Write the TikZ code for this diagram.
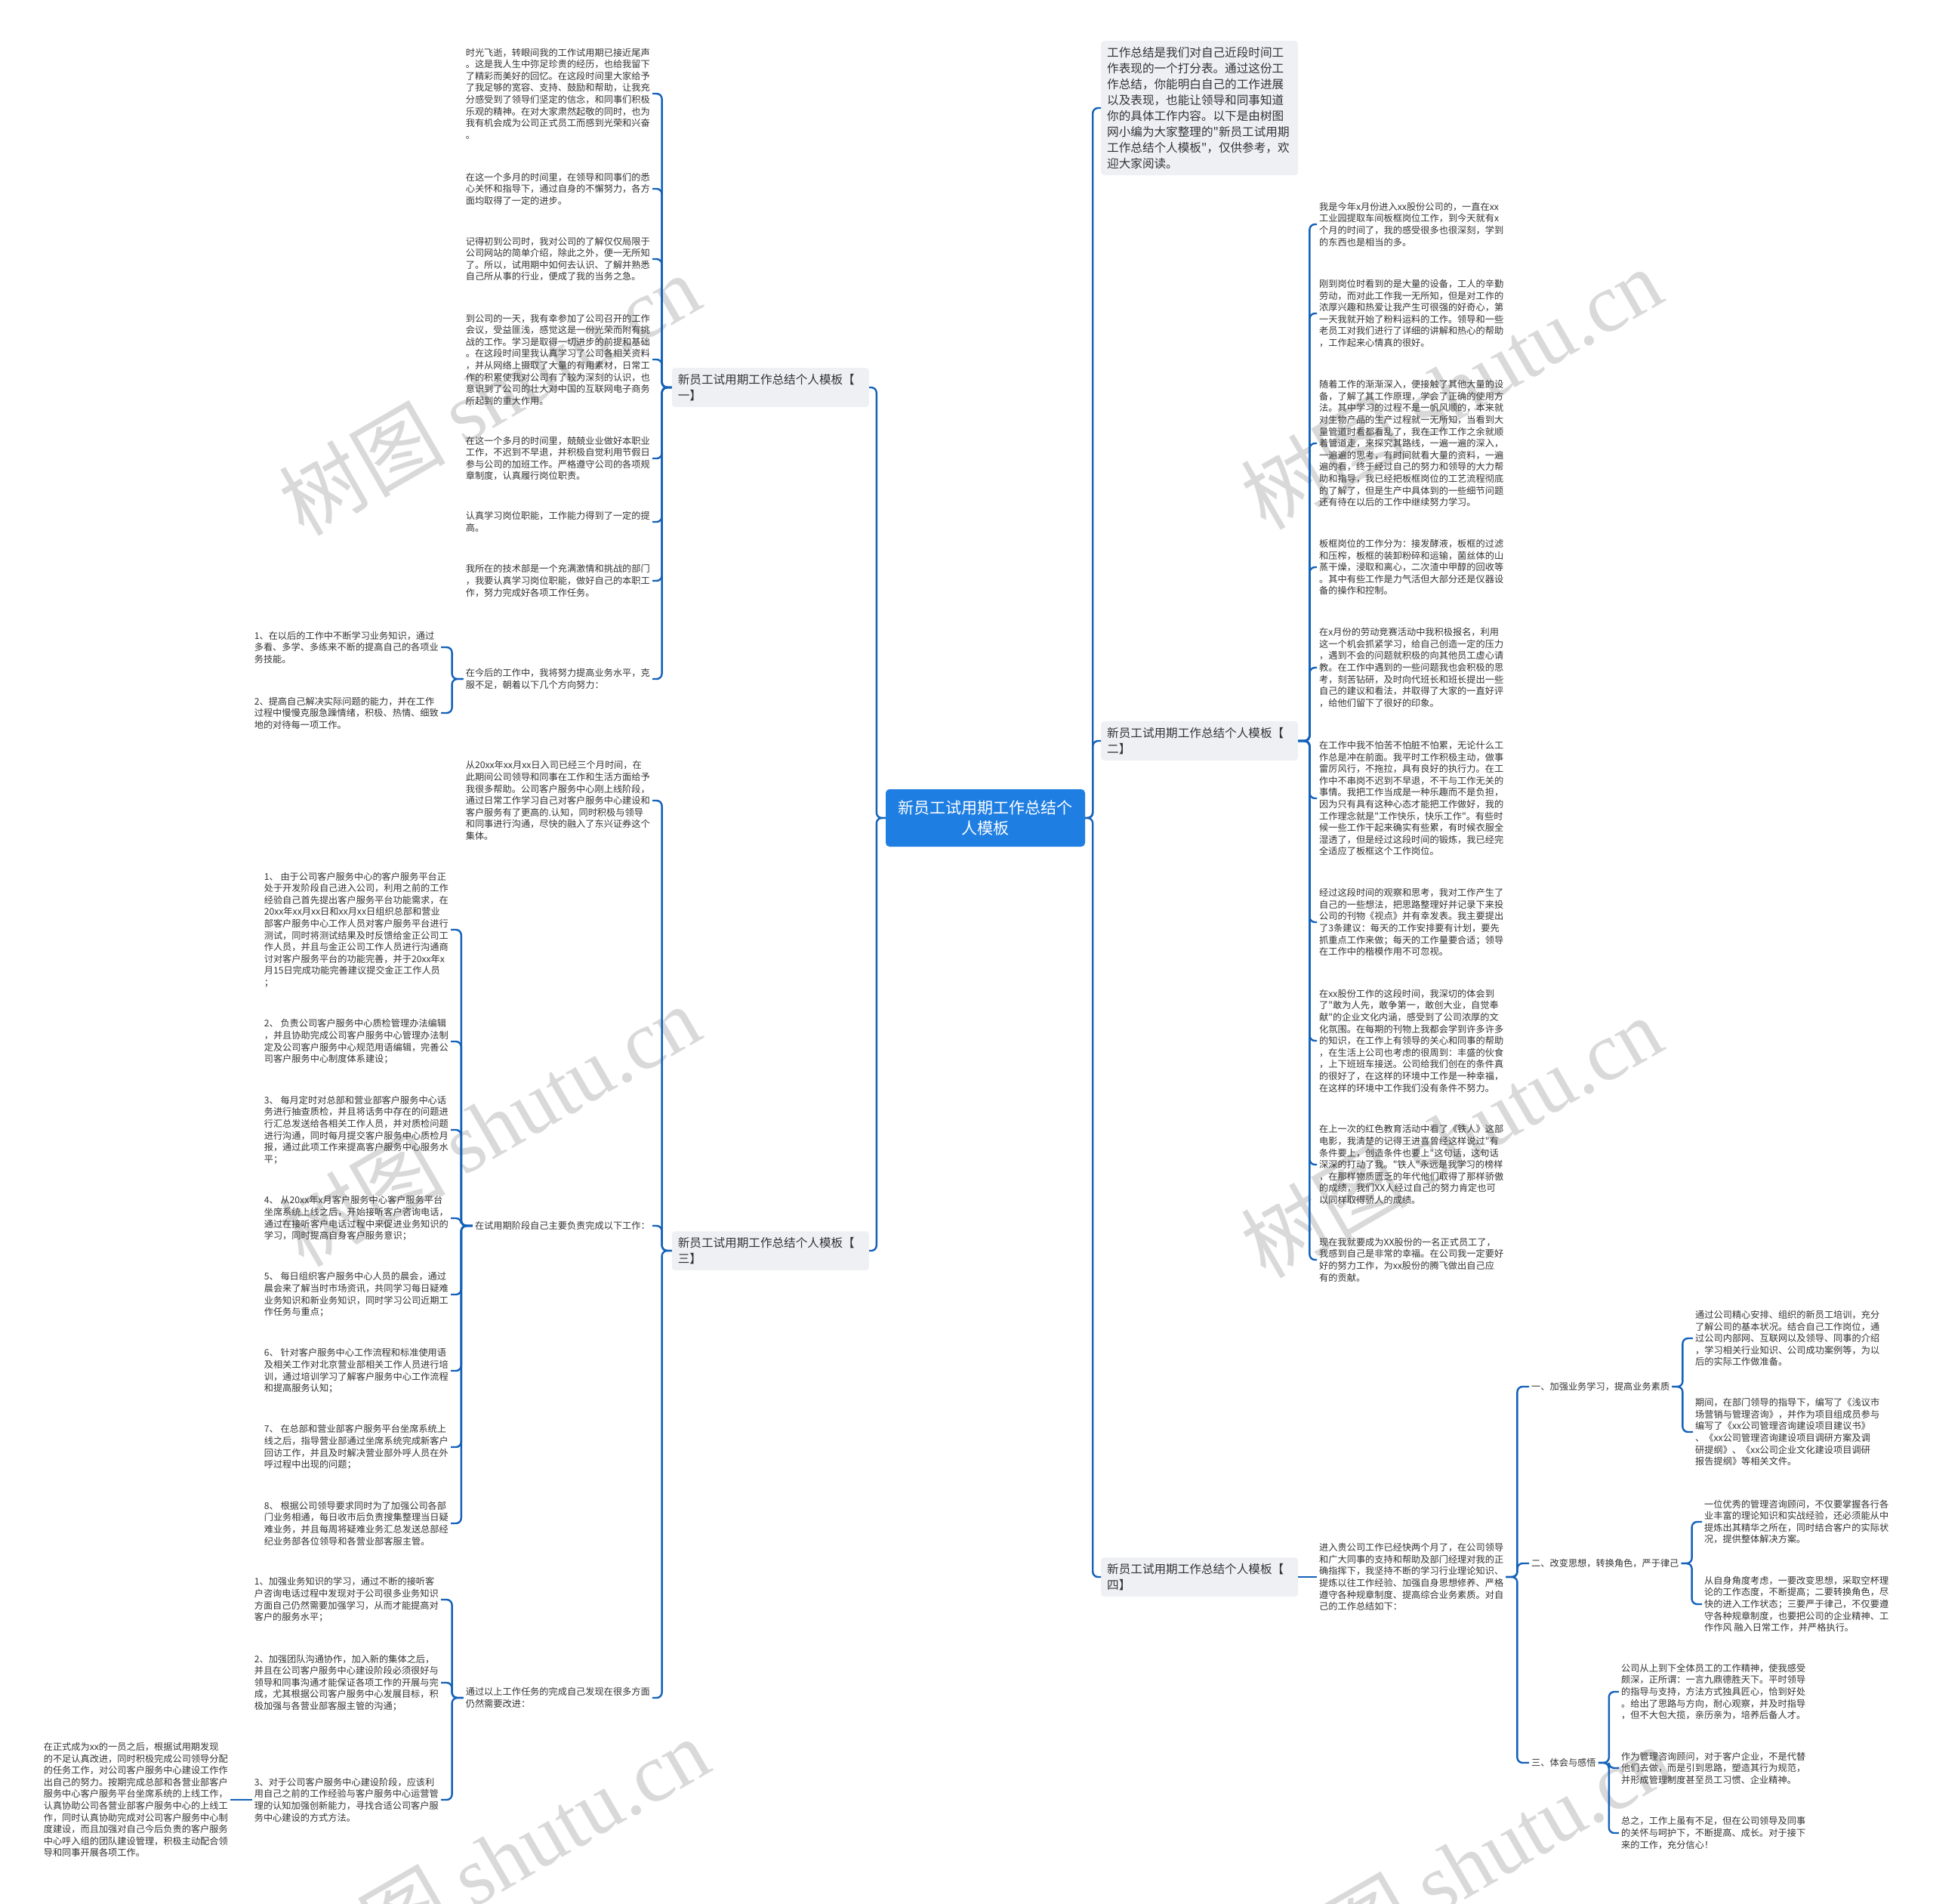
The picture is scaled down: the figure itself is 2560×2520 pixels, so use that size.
\documentclass[tikz,border=0pt]{standalone}
\usepackage{fontspec}
\setmainfont{Noto Sans CJK SC}
\newfontfamily\cjkfont{Noto Sans CJK SC}
\newfontfamily\wmfont{Liberation Serif}
\usepackage{xcolor}

\definecolor{linkblue}{RGB}{20,98,186}
\definecolor{rootblue}{RGB}{30,126,226}
\definecolor{boxgrey}{RGB}{238,240,244}
\definecolor{txtgrey}{RGB}{51,51,51}

\begin{document}
\begin{tikzpicture}[
    x=1pt, y=-1pt,
    root/.style={rectangle, rounded corners=5pt, fill=rootblue, text=white, font=\cjkfont\fontsize{21}{27}\selectfont, text width=240pt, align=center, minimum width=264pt, minimum height=76pt, inner xsep=12pt},
    box/.style={rectangle, rounded corners=4pt, fill=boxgrey, text=txtgrey, font=\cjkfont\fontsize{15.6}{21}\selectfont, text width=245pt, align=left, inner xsep=8pt, inner ysep=8pt},
    note/.style={text=txtgrey, font=\cjkfont\fontsize{12.2}{15.6}\selectfont, align=left, inner xsep=3pt, inner ysep=2pt},
    link/.style={draw=linkblue, line width=2.4pt, rounded corners=7pt},
    wmark/.style={text=gray!30, font=\cjkfont\fontsize{110}{110}\selectfont, rotate=30}
]

% Canvas
\fill[white] (0,0) rectangle (2560,2520);
\useasboundingbox (0,0) rectangle (2560,2520);

% Watermarks
\node[wmark] (wm1) at (648,522) {树图 {\wmfont shutu.cn}};
\node[wmark] (wm2) at (1922,514) {树图 {\wmfont shutu.cn}};
\node[wmark] (wm3) at (648,1490) {树图 {\wmfont shutu.cn}};
\node[wmark] (wm4) at (1922,1505) {树图 {\wmfont shutu.cn}};
\node[wmark] (wm5) at (660,2460) {树图 {\wmfont shutu.cn}};
\node[wmark] (wm6) at (1935,2470) {树图 {\wmfont shutu.cn}};

% Central topic
\node[root] (root) at (1305,1083) {新员工试用期工作总结个\\人模板};

% Main branches
\node[box, anchor=west] (intro) at (1458,143) {工作总结是我们对自己近段时间工\\
作表现的一个打分表。通过这份工\\
作总结，你能明白自己的工作进展\\
以及表现，也能让领导和同事知道\\
你的具体工作内容。以下是由树图\\
网小编为大家整理的"新员工试用期\\
工作总结个人模板"，仅供参考，欢\\
迎大家阅读。};
\node[box, anchor=east] (partone) at (1151,513) {新员工试用期工作总结个人模板【\\一】};
\node[box, anchor=west] (parttwo) at (1458,981) {新员工试用期工作总结个人模板【\\二】};
\node[box, anchor=east] (partthree) at (1151,1656) {新员工试用期工作总结个人模板【\\三】};
\node[box, anchor=west] (partfour) at (1458,2088) {新员工试用期工作总结个人模板【\\四】};

% Part one
\node[note, anchor=east] (onea) at (864,124) {时光飞逝，转眼间我的工作试用期已接近尾声\\
。这是我人生中弥足珍贵的经历，也给我留下\\
了精彩而美好的回忆。在这段时间里大家给予\\
了我足够的宽容、支持、鼓励和帮助，让我充\\
分感受到了领导们坚定的信念，和同事们积极\\
乐观的精神。在对大家肃然起敬的同时，也为\\
我有机会成为公司正式员工而感到光荣和兴奋\\
。};
\node[note, anchor=east] (oneb) at (864,250) {在这一个多月的时间里，在领导和同事们的悉\\
心关怀和指导下，通过自身的不懈努力，各方\\
面均取得了一定的进步。};
\node[note, anchor=east] (onec) at (864,343) {记得初到公司时，我对公司的了解仅仅局限于\\
公司网站的简单介绍，除此之外，便一无所知\\
了。所以，试用期中如何去认识、了解并熟悉\\
自己所从事的行业，便成了我的当务之急。};
\node[note, anchor=east] (oned) at (864,476) {到公司的一天，我有幸参加了公司召开的工作\\
会议，受益匪浅，感觉这是一份光荣而附有挑\\
战的工作。学习是取得一切进步的前提和基础\\
。在这段时间里我认真学习了公司各相关资料\\
，并从网络上摄取了大量的有用素材，日常工\\
作的积累使我对公司有了较为深刻的认识，也\\
意识到了公司的壮大对中国的互联网电子商务\\
所起到的重大作用。};
\node[note, anchor=east] (onee) at (864,607) {在这一个多月的时间里，兢兢业业做好本职业\\
工作，不迟到不早退，并积极自觉利用节假日\\
参与公司的加班工作。严格遵守公司的各项规\\
章制度，认真履行岗位职责。};
\node[note, anchor=east] (onef) at (864,691) {认真学习岗位职能，工作能力得到了一定的提\\
高。};
\node[note, anchor=east] (oneg) at (864,769) {我所在的技术部是一个充满激情和挑战的部门\\
，我要认真学习岗位职能，做好自己的本职工\\
作，努力完成好各项工作任务。};
\node[note, anchor=east] (oneh) at (864,899) {在今后的工作中，我将努力提高业务水平，克\\
服不足，朝着以下几个方向努力：};
\node[note, anchor=east] (aimone) at (584,857) {1、在以后的工作中不断学习业务知识，通过\\
多看、多学、多练来不断的提高自己的各项业\\
务技能。};
\node[note, anchor=east] (aimtwo) at (584,944) {2、提高自己解决实际问题的能力，并在工作\\
过程中慢慢克服急躁情绪，积极、热情、细致\\
地的对待每一项工作。};

% Part three
\node[note, anchor=east] (threea) at (864,1060) {从20xx年xx月xx日入司已经三个月时间，在\\
此期间公司领导和同事在工作和生活方面给予\\
我很多帮助。公司客户服务中心刚上线阶段，\\
通过日常工作学习自己对客户服务中心建设和\\
客户服务有了更高的.认知，同时积极与领导\\
和同事进行沟通，尽快的融入了东兴证券这个\\
集体。};
\node[note, anchor=east] (threeb) at (864,1623) {在试用期阶段自己主要负责完成以下工作：};
\node[note, anchor=east] (threec) at (864,2248) {通过以上工作任务的完成自己发现在很多方面\\
仍然需要改进：};

\node[note, anchor=east] (taskone) at (597,1231) {1、 由于公司客户服务中心的客户服务平台正\\
处于开发阶段自己进入公司，利用之前的工作\\
经验自己首先提出客户服务平台功能需求，在\\
20xx年xx月xx日和xx月xx日组织总部和营业\\
部客户服务中心工作人员对客户服务平台进行\\
测试，同时将测试结果及时反馈给金正公司工\\
作人员，并且与金正公司工作人员进行沟通商\\
讨对客户服务平台的功能完善，并于20xx年x\\
月15日完成功能完善建议提交金正工作人员\\
；};
\node[note, anchor=east] (tasktwo) at (597,1379) {2、 负责公司客户服务中心质检管理办法编辑\\
，并且协助完成公司客户服务中心管理办法制\\
定及公司客户服务中心规范用语编辑，完善公\\
司客户服务中心制度体系建设；};
\node[note, anchor=east] (taskthree) at (597,1496) {3、 每月定时对总部和营业部客户服务中心话\\
务进行抽查质检，并且将话务中存在的问题进\\
行汇总发送给各相关工作人员，并对质检问题\\
进行沟通，同时每月提交客户服务中心质检月\\
报，通过此项工作来提高客户服务中心服务水\\
平；};
\node[note, anchor=east] (taskfour) at (597,1613) {4、 从20xx年x月客户服务中心客户服务平台\\
坐席系统上线之后，开始接听客户咨询电话，\\
通过在接听客户电话过程中来促进业务知识的\\
学习，同时提高自身客户服务意识；};
\node[note, anchor=east] (taskfive) at (597,1714) {5、 每日组织客户服务中心人员的晨会，通过\\
晨会来了解当时市场资讯，共同学习每日疑难\\
业务知识和新业务知识，同时学习公司近期工\\
作任务与重点；};
\node[note, anchor=east] (tasksix) at (597,1815) {6、 针对客户服务中心工作流程和标准使用语\\
及相关工作对北京营业部相关工作人员进行培\\
训，通过培训学习了解客户服务中心工作流程\\
和提高服务认知；};
\node[note, anchor=east] (taskseven) at (597,1916) {7、 在总部和营业部客户服务平台坐席系统上\\
线之后，指导营业部通过坐席系统完成新客户\\
回访工作，并且及时解决营业部外呼人员在外\\
呼过程中出现的问题；};
\node[note, anchor=east] (taskeight) at (597,2017) {8、 根据公司领导要求同时为了加强公司各部\\
门业务相通，每日收市后负责搜集整理当日疑\\
难业务，并且每周将疑难业务汇总发送总部经\\
纪业务部各位领导和各营业部客服主管。};

\node[note, anchor=east] (fixone) at (584,2118) {1、加强业务知识的学习，通过不断的接听客\\
户咨询电话过程中发现对于公司很多业务知识\\
方面自己仍然需要加强学习，从而才能提高对\\
客户的服务水平；};
\node[note, anchor=east] (fixtwo) at (584,2228) {2、加强团队沟通协作，加入新的集体之后，\\
并且在公司客户服务中心建设阶段必须很好与\\
领导和同事沟通才能保证各项工作的开展与完\\
成，尤其根据公司客户服务中心发展目标，积\\
极加强与各营业部客服主管的沟通；};
\node[note, anchor=east] (fixthree) at (584,2383) {3、对于公司客户服务中心建设阶段，应该利\\
用自己之前的工作经验与客户服务中心运营管\\
理的认知加强创新能力，寻找合适公司客户服\\
务中心建设的方式方法。};
\node[note, anchor=east] (afterfix) at (305,2383) {在正式成为xx的一员之后，根据试用期发现\\
的不足认真改进，同时积极完成公司领导分配\\
的任务工作，对公司客户服务中心建设工作作\\
出自己的努力。按期完成总部和各营业部客户\\
服务中心客户服务平台坐席系统的上线工作，\\
认真协助公司各营业部客户服务中心的上线工\\
作，同时认真协助完成对公司客户服务中心制\\
度建设，而且加强对自己今后负责的客户服务\\
中心呼入组的团队建设管理，积极主动配合领\\
导和同事开展各项工作。};

% Part two
\node[note, anchor=west] (twoa) at (1744,297) {我是今年x月份进入xx股份公司的，一直在xx\\
工业园提取车间板框岗位工作，到今天就有x\\
个月的时间了，我的感受很多也很深刻，学到\\
的东西也是相当的多。};
\node[note, anchor=west] (twob) at (1744,415) {刚到岗位时看到的是大量的设备，工人的辛勤\\
劳动，而对此工作我一无所知，但是对工作的\\
浓厚兴趣和热爱让我产生可很强的好奇心，第\\
一天我就开始了粉料运料的工作。领导和一些\\
老员工对我们进行了详细的讲解和热心的帮助\\
，工作起来心情真的很好。};
\node[note, anchor=west] (twoc) at (1744,587) {随着工作的渐渐深入，便接触了其他大量的设\\
备，了解了其工作原理，学会了正确的使用方\\
法。其中学习的过程不是一帆风顺的，本来就\\
对生物产品的生产过程就一无所知，当看到大\\
量管道时看都看乱了，我在工作工作之余就顺\\
着管道走，来探究其路线，一遍一遍的深入，\\
一遍遍的思考，有时间就看大量的资料，一遍\\
遍的看，终于经过自己的努力和领导的大力帮\\
助和指导，我已经把板框岗位的工艺流程彻底\\
的了解了，但是生产中具体到的一些细节问题\\
还有待在以后的工作中继续努力学习。};
\node[note, anchor=west] (twod) at (1744,751) {板框岗位的工作分为：接发酵液，板框的过滤\\
和压榨，板框的装卸粉碎和运输，菌丝体的山\\
蒸干燥，浸取和离心，二次渣中甲醇的回收等\\
。其中有些工作是力气活但大部分还是仪器设\\
备的操作和控制。};
\node[note, anchor=west] (twoe) at (1744,884) {在x月份的劳动竞赛活动中我积极报名，利用\\
这一个机会抓紧学习，给自己创造一定的压力\\
，遇到不会的问题就积极的向其他员工虚心请\\
教。在工作中遇到的一些问题我也会积极的思\\
考，刻苦钻研，及时向代班长和班长提出一些\\
自己的建议和看法，并取得了大家的一直好评\\
，给他们留下了很好的印象。};
\node[note, anchor=west] (twof) at (1744,1057) {在工作中我不怕苦不怕脏不怕累，无论什么工\\
作总是冲在前面。我平时工作积极主动，做事\\
雷厉风行，不拖拉，具有良好的执行力。在工\\
作中不串岗不迟到不早退，不干与工作无关的\\
事情。我把工作当成是一种乐趣而不是负担，\\
因为只有具有这种心态才能把工作做好，我的\\
工作理念就是"工作快乐，快乐工作"。有些时\\
候一些工作干起来确实有些累，有时候衣服全\\
湿透了，但是经过这段时间的锻炼，我已经完\\
全适应了板框这个工作岗位。};
\node[note, anchor=west] (twog) at (1744,1221) {经过这段时间的观察和思考，我对工作产生了\\
自己的一些想法，把思路整理好并记录下来投\\
公司的刊物《视点》并有幸发表。我主要提出\\
了3条建议：每天的工作安排要有计划，要先\\
抓重点工作来做；每天的工作量要合适；领导\\
在工作中的楷模作用不可忽视。};
\node[note, anchor=west] (twoh) at (1744,1378) {在xx股份工作的这段时间，我深切的体会到\\
了"敢为人先，敢争第一，敢创大业，自觉奉\\
献"的企业文化内涵，感受到了公司浓厚的文\\
化氛围。在每期的刊物上我都会学到许多许多\\
的知识，在工作上有领导的关心和同事的帮助\\
，在生活上公司也考虑的很周到：丰盛的伙食\\
，上下班班车接送。公司给我们创在的条件真\\
的很好了，在这样的环境中工作是一种幸福，\\
在这样的环境中工作我们没有条件不努力。};
\node[note, anchor=west] (twoi) at (1744,1542) {在上一次的红色教育活动中看了《铁人》这部\\
电影，我清楚的记得王进喜曾经这样说过"有\\
条件要上，创造条件也要上"这句话，这句话\\
深深的打动了我。"铁人"永远是我学习的榜样\\
，在那样物质匮乏的年代他们取得了那样骄傲\\
的成绩，我们XX人经过自己的努力肯定也可\\
以同样取得骄人的成绩。};
\node[note, anchor=west] (twoj) at (1744,1668) {现在我就要成为XX股份的一名正式员工了，\\
我感到自己是非常的幸福。在公司我一定要好\\
好的努力工作，为xx股份的腾飞做出自己应\\
有的贡献。};

% Part four
\node[note, anchor=west] (foura) at (1744,2088) {进入贵公司工作已经快两个月了，在公司领导\\
和广大同事的支持和帮助及部门经理对我的正\\
确指挥下，我坚持不断的学习行业理论知识、\\
提炼以往工作经验、加强自身思想修养、严格\\
遵守各种规章制度、提高综合业务素质。对自\\
己的工作总结如下：};
\node[note, anchor=west] (study) at (2025,1836) {一、加强业务学习，提高业务素质};
\node[note, anchor=west] (mindset) at (2025,2070) {二、改变思想，转换角色，严于律己};
\node[note, anchor=west] (insight) at (2025,2334) {三、体会与感悟};

\node[note, anchor=west] (studya) at (2242,1772) {通过公司精心安排、组织的新员工培训，充分\\
了解公司的基本状况。结合自己工作岗位，通\\
过公司内部网、互联网以及领导、同事的介绍\\
，学习相关行业知识、公司成功案例等，为以\\
后的实际工作做准备。};
\node[note, anchor=west] (studyb) at (2242,1896) {期间，在部门领导的指导下，编写了《浅议市\\
场营销与管理咨询》，并作为项目组成员参与\\
编写了《xx公司管理咨询建设项目建议书》\\
、《xx公司管理咨询建设项目调研方案及调\\
研提纲》、《xx公司企业文化建设项目调研\\
报告提纲》等相关文件。};
\node[note, anchor=west] (mindseta) at (2254,2015) {一位优秀的管理咨询顾问，不仅要掌握各行各\\
业丰富的理论知识和实战经验，还必须能从中\\
提炼出其精华之所在，同时结合客户的实际状\\
况，提供整体解决方案。};
\node[note, anchor=west] (mindsetb) at (2254,2124) {从自身角度考虑，一要改变思想，采取空杯理\\
论的工作态度，不断提高；二要转换角色，尽\\
快的进入工作状态；三要严于律己，不仅要遵\\
守各种规章制度，也要把公司的企业精神、工\\
作作风 融入日常工作，并严格执行。};
\node[note, anchor=west] (insighta) at (2144,2240) {公司从上到下全体员工的工作精神，使我感受\\
颇深，正所谓：一言九鼎德胜天下。平时领导\\
的指导与支持，方法方式独具匠心，恰到好处\\
。给出了思路与方向，耐心观察，并及时指导\\
，但不大包大揽，亲历亲为，培养后备人才。};
\node[note, anchor=west] (insightb) at (2144,2341) {作为管理咨询顾问，对于客户企业，不是代替\\
他们去做，而是引到思路，塑造其行为规范，\\
并形成管理制度甚至员工习惯、企业精神。};
\node[note, anchor=west] (insightc) at (2144,2427) {总之，工作上虽有不足，但在公司领导及同事\\
的关怀与呵护下，不断提高、成长。对于接下\\
来的工作，充分信心！};

% Links from the central topic
\draw[link] (root.east) -- ++(10,0) |- (intro.west);
\draw[link] (root.east) -- ++(10,0) |- (parttwo.west);
\draw[link] (root.east) -- ++(10,0) |- (partfour.west);
\draw[link] (root.west) -- ++(-12,0) |- (partone.east);
\draw[link] (root.west) -- ++(-12,0) |- (partthree.east);

% Links of part one
\draw[link] (partone.west) -- ++(-13,0) |- (onea.east);
\draw[link] (partone.west) -- ++(-13,0) |- (oneb.east);
\draw[link] (partone.west) -- ++(-13,0) |- (onec.east);
\draw[link] (partone.west) -- ++(-13,0) |- (oned.east);
\draw[link] (partone.west) -- ++(-13,0) |- (onee.east);
\draw[link] (partone.west) -- ++(-13,0) |- (onef.east);
\draw[link] (partone.west) -- ++(-13,0) |- (oneg.east);
\draw[link] (partone.west) -- ++(-13,0) |- (oneh.east);
\draw[link] (oneh.west) -- ++(-15,0) |- (aimone.east);
\draw[link] (oneh.west) -- ++(-15,0) |- (aimtwo.east);

% Links of part three
\draw[link] (partthree.west) -- ++(-13,0) |- (threea.east);
\draw[link] (partthree.west) -- ++(-13,0) |- (threeb.east);
\draw[link] (partthree.west) -- ++(-13,0) |- (threec.east);
\draw[link] (threeb.west) -- ++(-15,0) |- (taskone.east);
\draw[link] (threeb.west) -- ++(-15,0) |- (tasktwo.east);
\draw[link] (threeb.west) -- ++(-15,0) |- (taskthree.east);
\draw[link] (threeb.west) -- ++(-15,0) |- (taskfour.east);
\draw[link] (threeb.west) -- ++(-15,0) |- (taskfive.east);
\draw[link] (threeb.west) -- ++(-15,0) |- (tasksix.east);
\draw[link] (threeb.west) -- ++(-15,0) |- (taskseven.east);
\draw[link] (threeb.west) -- ++(-15,0) |- (taskeight.east);
\draw[link] (threec.west) -- ++(-15,0) |- (fixone.east);
\draw[link] (threec.west) -- ++(-15,0) |- (fixtwo.east);
\draw[link] (threec.west) -- ++(-15,0) |- (fixthree.east);
\draw[link] (fixthree.west) -- (afterfix.east);

% Links of part two
\draw[link] (parttwo.east) -- ++(15,0) |- (twoa.west);
\draw[link] (parttwo.east) -- ++(15,0) |- (twob.west);
\draw[link] (parttwo.east) -- ++(15,0) |- (twoc.west);
\draw[link] (parttwo.east) -- ++(15,0) |- (twod.west);
\draw[link] (parttwo.east) -- ++(15,0) |- (twoe.west);
\draw[link] (parttwo.east) -- ++(15,0) |- (twof.west);
\draw[link] (parttwo.east) -- ++(15,0) |- (twog.west);
\draw[link] (parttwo.east) -- ++(15,0) |- (twoh.west);
\draw[link] (parttwo.east) -- ++(15,0) |- (twoi.west);
\draw[link] (parttwo.east) -- ++(15,0) |- (twoj.west);

% Links of part four
\draw[link] (partfour.east) -- (foura.west);
\draw[link] (foura.east) -- ++(15,0) |- (study.west);
\draw[link] (foura.east) -- ++(15,0) |- (mindset.west);
\draw[link] (foura.east) -- ++(15,0) |- (insight.west);
\draw[link] (study.east) -- ++(14,0) |- (studya.west);
\draw[link] (study.east) -- ++(14,0) |- (studyb.west);
\draw[link] (mindset.east) -- ++(14,0) |- (mindseta.west);
\draw[link] (mindset.east) -- ++(14,0) |- (mindsetb.west);
\draw[link] (insight.east) -- ++(14,0) |- (insighta.west);
\draw[link] (insight.east) -- ++(14,0) |- (insightb.west);
\draw[link] (insight.east) -- ++(14,0) |- (insightc.west);

\end{tikzpicture}
\end{document}
